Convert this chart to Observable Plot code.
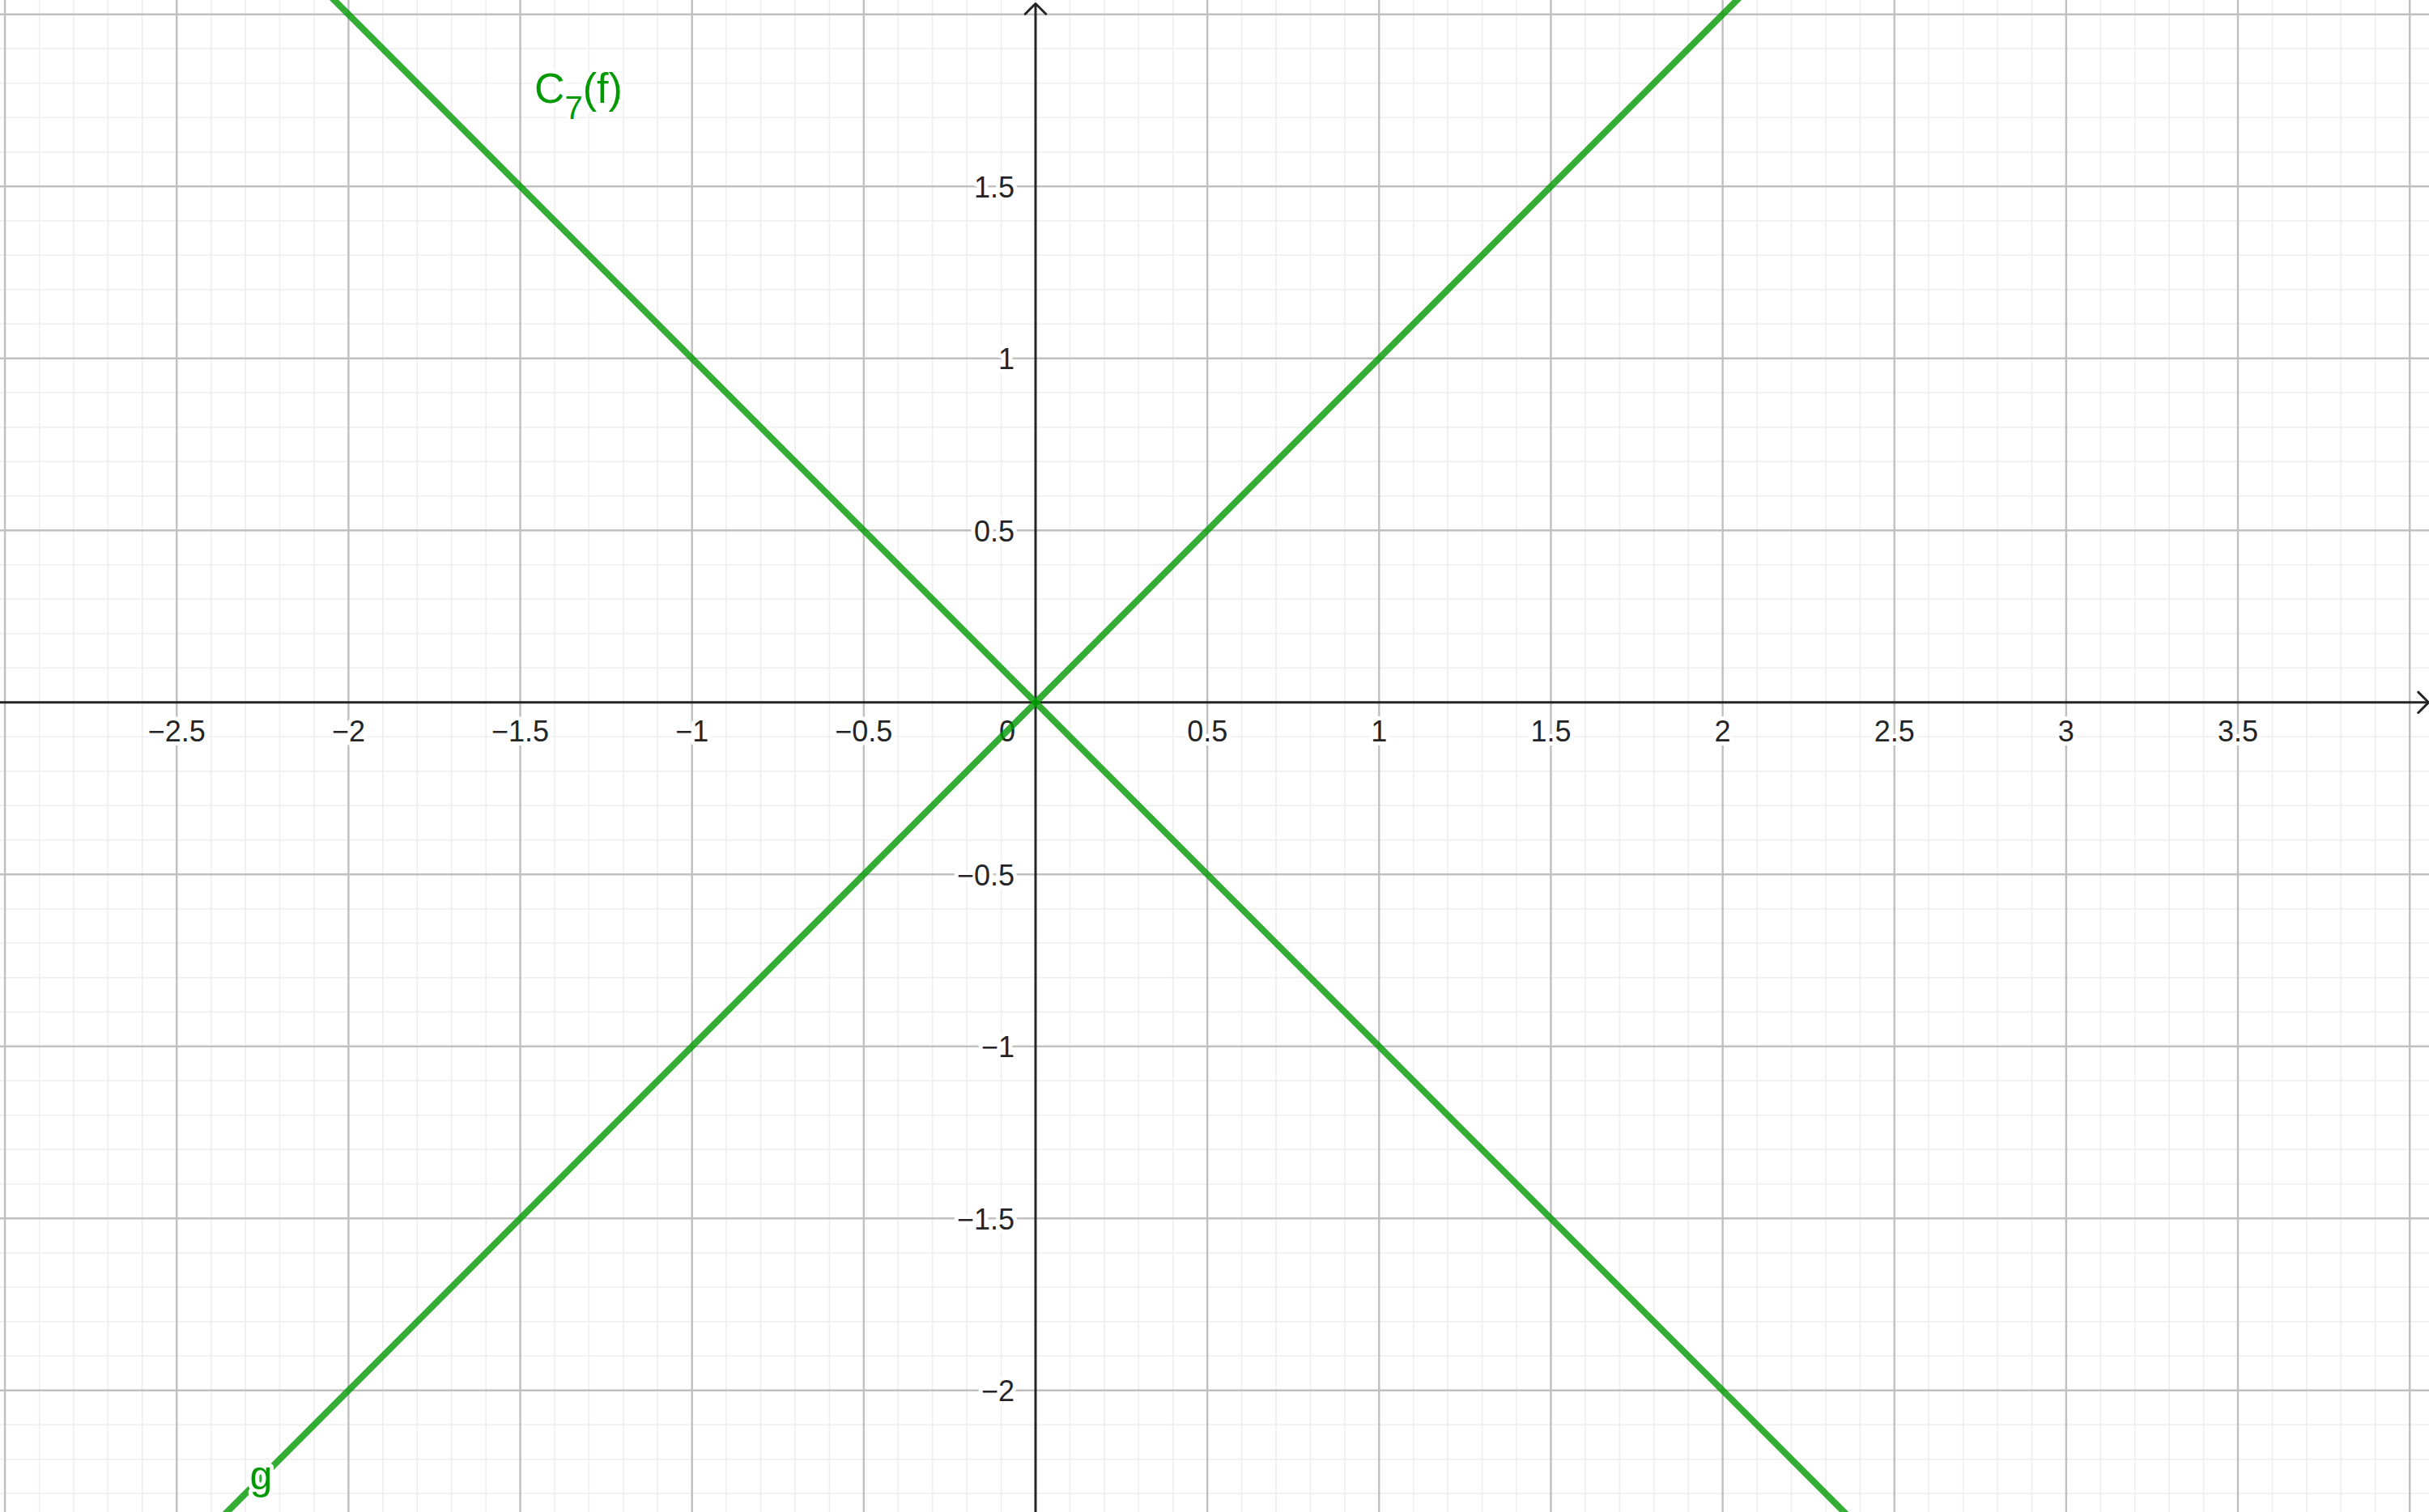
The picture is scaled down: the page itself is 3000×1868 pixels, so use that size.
<!DOCTYPE html>
<html>
<head>
<meta charset="utf-8">
<script src="https://cdn.jsdelivr.net/npm/d3@7"></script>
<script src="https://cdn.jsdelivr.net/npm/@observablehq/plot@0.6"></script>
<style>
  html, body { margin: 0; padding: 0; background: #ffffff; }
  #chart svg { display: block; }
</style>
</head>
<body>
<div id="chart"></div>
<script>
// View window (data units)
const xDomain = [-3.0132, 4.0573];
const yDomain = [-2.3546, 2.0407];

// Grid ticks
const minorX = d3.range(-30, 41).map(i => i / 10);
const minorY = d3.range(-23, 21).map(i => i / 10);
const majorX = [-3, -2.5, -2, -1.5, -1, -0.5, 0.5, 1, 1.5, 2, 2.5, 3, 3.5, 4];
const majorY = [-2, -1.5, -1, -0.5, 0.5, 1, 1.5, 2];

// Tick labels
const xTicks = [-2.5, -2, -1.5, -1, -0.5, 0.5, 1, 1.5, 2, 2.5, 3, 3.5];
const xTickLabels = ["−2.5", "−2", "−1.5", "−1", "−0.5", "0.5", "1", "1.5", "2", "2.5", "3", "3.5"];
const yTicks = [-2, -1.5, -1, -0.5, 0.5, 1, 1.5];
const yTickLabels = ["−2", "−1.5", "−1", "−0.5", "0.5", "1", "1.5"];

// Lines: g: y = x, C7(f): y = -x (endpoints)
const gLine = [{x: -3.1, y: -3.1}, {x: 4.1, y: 4.1}];
const fLine = [{x: -3.1, y: 3.1}, {x: 4.1, y: -4.1}];

// Object labels (anchor positions)
const labels = [
  {name: "C7(f)", x: -1.4589, y: 1.7419, size: 52},
  {name: "g", x: -2.2545, y: -2.2876, size: 50}
];

const green = "#009900";
const axisColor = "#252525";
const font = "'Liberation Sans', Arial, sans-serif";

const plot = Plot.plot({
  width: 3000,
  height: 1868,
  margin: 0,
  style: {background: "#ffffff", fontFamily: font},
  x: {domain: xDomain, axis: null},
  y: {domain: yDomain, axis: null},
  marks: [
    Plot.ruleX(minorX, {stroke: "#eeeeee", strokeWidth: 1.6}),
    Plot.ruleY(minorY, {stroke: "#eeeeee", strokeWidth: 1.6}),
    Plot.ruleX(majorX, {stroke: "#c0c0c0", strokeWidth: 2.4}),
    Plot.ruleY(majorY, {stroke: "#c0c0c0", strokeWidth: 2.4}),
    // tick labels
    Plot.text(xTicks, {x: d => d, y: 0, text: (d, i) => xTickLabels[i], dy: 48, lineAnchor: "bottom",
      textAnchor: "middle", fontSize: 36, fill: axisColor, stroke: "white", strokeWidth: 10}),
    Plot.text([0], {x: 0, y: 0, text: ["0"], dy: 48, dx: -25, lineAnchor: "bottom",
      textAnchor: "end", fontSize: 36, fill: axisColor, stroke: "white", strokeWidth: 10}),
    Plot.text(yTicks, {x: 0, y: d => d, text: (d, i) => yTickLabels[i], dy: 13.5, dx: -26, lineAnchor: "bottom",
      textAnchor: "end", fontSize: 36, fill: axisColor, stroke: "white", strokeWidth: 10}),
    // axes
    Plot.arrow([{x1: xDomain[0], y1: 0, x2: xDomain[1], y2: 0}], {x1: "x1", y1: "y1", x2: "x2", y2: "y2",
      stroke: axisColor, strokeWidth: 3, headAngle: 90, headLength: 9, insetEnd: 1}),
    Plot.arrow([{x1: 0, y1: yDomain[0], x2: 0, y2: yDomain[1]}], {x1: "x1", y1: "y1", x2: "x2", y2: "y2",
      stroke: axisColor, strokeWidth: 3, headAngle: 90, headLength: 9, insetEnd: 4}),
    // lines
    Plot.line(gLine, {x: "x", y: "y", stroke: green, strokeOpacity: 0.8, strokeWidth: 8, clip: true}),
    Plot.line(fLine, {x: "x", y: "y", stroke: green, strokeOpacity: 0.8, strokeWidth: 8, clip: true}),
    // object labels
    Plot.text(labels, {x: "x", y: "y", text: "name", lineAnchor: "bottom",
      fontSize: "size", fill: green, stroke: "white", strokeWidth: 10, className: "objlabel"})
  ]
});

// Render subscript for C7(f) and set anchors
d3.select(plot).selectAll("g.objlabel text").each(function() {
  const t = d3.select(this);
  if (t.text() === "C7(f)") {
    t.attr("text-anchor", "start");
    t.text(null);
    t.append("tspan").text("C");
    t.append("tspan").attr("dy", 20).attr("font-size", 40).text("7");
    t.append("tspan").attr("dy", -20).text("(f)");
  } else {
    t.attr("text-anchor", "middle");
  }
});

document.getElementById("chart").appendChild(plot);
</script>
</body>
</html>
